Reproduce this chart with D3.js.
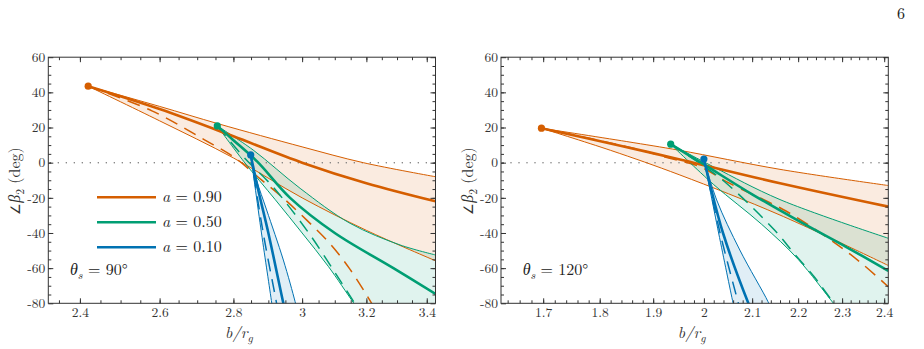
<!DOCTYPE html>
<html>
<head>
<meta charset="utf-8">
<script src="https://cdn.jsdelivr.net/npm/d3@7"></script>
<style>
  body { margin: 0; background: #fff; }
</style>
</head>
<body>
<div class="chart-container"></div>
<script>
const WIDTH = 924;
const HEIGHT = 349;
const FONT = "'Latin Modern Roman', 'Liberation Serif', serif";

const ORANGE = "#D55E00";
const GREEN = "#009E73";
const BLUE = "#0072B2";

// y ticks shared by both panels
const yTicks = [-80, -60, -40, -20, 0, 20, 40, 60];
const yDomain = [-80, 60];

// theta_s = 90 deg panel
const xTicks90 = [2.4, 2.6, 2.8, 3, 3.2, 3.4];
const xDomain90 = [2.325, 3.43];

const t90_a90 = {
  dot: [2.42, 43.5],
  upper: [[2.42, 43.5], [2.6, 32], [2.76, 22], [3.0, 9], [3.19, 0], [3.43, -8]],
  mid: [[2.42, 43.5], [2.6, 30.5], [2.8, 15], [3.0, 0], [3.2, -11.7], [3.43, -22]],
  lower: [[2.42, 43.5], [2.6, 23.8], [2.8, 2.7], [3.0, -20], [3.2, -38.5], [3.43, -55.8]],
  dashed: [[2.42, 43.5], [2.58, 29.5], [2.72, 13], [2.8, 3.4], [2.88, -9.8], [2.944, -20.2], [3.014, -32.7], [3.085, -46], [3.148, -60.7], [3.217, -80], [3.24, -87]]
};
const t90_a50 = {
  dot: [2.755, 20.9],
  upper: [[2.755, 20.9], [2.856, 7.2], [2.994, -14.6], [3.148, -34.5], [3.31, -46.8], [3.43, -52.5]],
  mid: [[2.755, 20.9], [2.8, 12.8], [2.868, 0.6], [2.964, -20], [3.1, -40], [3.288, -60], [3.43, -74.7]],
  lower: [[2.755, 20.9], [2.83, 0.5], [2.92, -21], [3.0, -40], [3.08, -59], [3.16, -80], [3.2, -90]],
  dashed: [[2.755, 20.9], [2.83, 3], [2.91, -13], [3.02, -40], [3.12, -68], [3.17, -82]]
};
const t90_a10 = {
  dot: [2.849, 4.4],
  upper: [[2.849, 4.4], [2.866, -9.9], [2.895, -26.9], [2.944, -55.4], [2.979, -79.1], [2.985, -84]],
  mid: [[2.849, 4.4], [2.87, -15], [2.9, -40], [2.944, -80], [2.95, -85]],
  lower: [[2.849, 4.4], [2.88, -40], [2.91, -80], [2.915, -87]],
  dashed: [[2.849, 4.4], [2.885, -40], [2.924, -80], [2.93, -87]]
};

// theta_s = 120 deg panel
const xTicks120 = [1.7, 1.8, 1.9, 2, 2.1, 2.2, 2.3, 2.4];
const xDomain120 = [1.629, 2.41];

const t120_a90 = {
  dot: [1.697, 19.6],
  upper: [[1.697, 19.6], [1.85, 12], [1.952, 7], [2.16, -3.8], [2.41, -13]],
  mid: [[1.697, 19.6], [1.84, 9.5], [1.95, 2], [2.16, -11.7], [2.41, -25]],
  lower: [[1.697, 19.6], [1.82, 7], [1.952, -7], [2.16, -29.8], [2.41, -58.5]],
  dashed: [[1.697, 19.6], [1.862, 8.2], [1.932, 2.5], [1.992, -2.3], [2.05, -11.4], [2.173, -27.5], [2.287, -46.3], [2.346, -57.3], [2.41, -70.6]]
};
const t120_a50 = {
  dot: [1.934, 10.5],
  upper: [[1.934, 10.5], [2.019, -2.3], [2.16, -21], [2.41, -43]],
  mid: [[1.934, 10.5], [2.0, -1], [2.1, -18], [2.2, -33], [2.31, -48], [2.41, -61.5]],
  lower: [[1.934, 10.5], [2.02, -12.5], [2.12, -35], [2.2, -55], [2.28, -80], [2.3, -86]],
  dashed: [[1.934, 10.5], [2.0, -2], [2.046, -11.7], [2.148, -38.3], [2.191, -51.6], [2.236, -64.9], [2.264, -74.3], [2.29, -83]]
};
const t120_a10 = {
  dot: [2.0, 2.1],
  upper: [[2.0, 2.1], [2.026, -21.2], [2.074, -49.7], [2.134, -79.1], [2.14, -83]],
  mid: [[2.0, 2.1], [2.012, -12], [2.039, -40], [2.092, -80], [2.1, -85]],
  lower: [[2.0, 2.1], [2.03, -40], [2.06, -80], [2.065, -86]],
  dashed: [[2.0, 2.1], [2.033, -40], [2.071, -80], [2.077, -86]]
};

const legendLabels = ["0.90", "0.50", "0.10"];
const legendColors = [ORANGE, GREEN, BLUE];

const PLOT_TOP = 57.2;
const PLOT_BOTTOM = 303.3;

const svg = d3.select(".chart-container")
  .append("svg")
  .attr("width", WIDTH)
  .attr("height", HEIGHT);

const defs = svg.append("defs");

const drawPanel = (cfg) => {
  const x = d3.scaleLog().domain(cfg.xDomain).range([cfg.left, cfg.right]);
  const y = d3.scaleLinear().domain(yDomain).range([PLOT_BOTTOM, PLOT_TOP]);

  defs.append("clipPath").attr("id", cfg.id)
    .append("rect")
    .attr("x", cfg.left).attr("y", PLOT_TOP)
    .attr("width", cfg.right - cfg.left).attr("height", PLOT_BOTTOM - PLOT_TOP);

  const line = d3.line()
    .x((d) => x(d[0]))
    .y((d) => y(d[1]))
    .curve(d3.curveCatmullRom.alpha(0.5));

  const plot = svg.append("g").attr("clip-path", `url(#${cfg.id})`);

  // bands
  cfg.series.forEach((s) => {
    const up = line(s.data.upper);
    const lowRev = line(s.data.lower.slice().reverse());
    const endUp = s.data.upper[s.data.upper.length - 1];
    const endLow = s.data.lower[s.data.lower.length - 1];
    const close = `L${x(endUp[0])},${y(-200)}L${x(endLow[0])},${y(-200)}`;
    plot.append("path")
      .attr("d", up + close + "L" + lowRev.slice(1) + "Z")
      .attr("fill", s.color)
      .attr("fill-opacity", 0.12)
      .attr("stroke", "none");
  });

  // zero line
  plot.append("line")
    .attr("x1", cfg.left + 2).attr("x2", cfg.right)
    .attr("y1", y(0)).attr("y2", y(0))
    .attr("stroke", "#777")
    .attr("stroke-width", 1.5)
    .attr("stroke-linecap", "round")
    .attr("stroke-dasharray", "0,8");

  cfg.series.forEach((s) => {
    ["upper", "lower"].forEach((k) => {
      plot.append("path")
        .attr("d", line(s.data[k]))
        .attr("fill", "none")
        .attr("stroke", s.color)
        .attr("stroke-width", 1);
    });
    plot.append("path")
      .attr("d", line(s.data.dashed))
      .attr("fill", "none")
      .attr("stroke", s.color)
      .attr("stroke-width", 1.5)
      .attr("stroke-dasharray", "13,8");
  });

  cfg.series.forEach((s) => {
    plot.append("path")
      .attr("d", line(s.data.mid))
      .attr("fill", "none")
      .attr("stroke", s.color)
      .attr("stroke-width", 2.6);
    svg.append("circle")
      .attr("cx", x(s.data.dot[0]))
      .attr("cy", y(s.data.dot[1]))
      .attr("r", 3.6)
      .attr("fill", s.color);
  });

  // frame + ticks on all sides, pointing inward
  const fmt = (d) => String(+d.toFixed(2));
  const styleAxis = (g) => {
    g.select(".domain").remove();
    g.selectAll("line").attr("stroke", "#333");
    g.selectAll("text")
      .attr("fill", "#333")
      .style("font-size", "13.5px");
  };
  const axes = [
    [d3.axisBottom(x), PLOT_BOTTOM, 0, cfg.xTicks, cfg.xMinor, fmt, 4],
    [d3.axisTop(x), PLOT_TOP, 0, cfg.xTicks, cfg.xMinor, () => "", 4],
    [d3.axisLeft(y), 0, cfg.left, yTicks, d3.range(-75, 60, 5), (d) => String(d), 3],
    [d3.axisRight(y), 0, cfg.right, yTicks, d3.range(-75, 60, 5), () => "", 3]
  ];
  axes.forEach(([ax, ty, tx, major, minor, f, pad]) => {
    svg.append("g")
      .attr("transform", `translate(${tx},${ty})`)
      .call(ax.tickValues(minor).tickSize(-3).tickSizeOuter(0).tickFormat(""))
      .call(styleAxis);
    svg.append("g")
      .attr("transform", `translate(${tx},${ty})`)
      .call(ax.tickValues(major).tickSize(-5).tickSizeOuter(0).tickPadding(pad).tickFormat(f))
      .call(styleAxis);
  });

  svg.append("rect")
    .attr("x", cfg.left).attr("y", PLOT_TOP)
    .attr("width", cfg.right - cfg.left).attr("height", PLOT_BOTTOM - PLOT_TOP)
    .attr("fill", "none")
    .attr("stroke", "#333")
    .attr("stroke-width", 1);

  // axis titles
  const xt = svg.append("text")
    .attr("x", (cfg.left + cfg.right) / 2 - 3)
    .attr("y", 338)
    .attr("text-anchor", "middle")
    .style("font-size", "16px")
    .attr("fill", "#333");
  xt.append("tspan").attr("font-style", "italic").text("b/r");
  xt.append("tspan").attr("font-style", "italic").style("font-size", "11.5px").attr("dy", 3.5).text("g");

  const yt = svg.append("text")
    .attr("transform", `translate(${cfg.left - 28},${181}) rotate(-90)`)
    .attr("text-anchor", "middle")
    .style("font-size", "16px")
    .attr("fill", "#333");
  yt.append("tspan").attr("class", "angle").text("∠");
  yt.append("tspan").attr("font-style", "italic").text("β");
  yt.append("tspan").style("font-size", "11.5px").attr("dy", 3.5).text("2");
  yt.append("tspan").attr("dy", -3.5).text(" (deg)");

  const th = svg.append("text")
    .attr("x", cfg.thetaX)
    .attr("y", 275)
    .style("font-size", "16px")
    .attr("fill", "#222");
  th.append("tspan").attr("font-style", "italic").text("θ");
  th.append("tspan").attr("font-style", "italic").style("font-size", "11.5px").attr("dy", 3.5).text("s");
  th.append("tspan").attr("dy", -3.5).text(` = ${cfg.theta}°`);
};

drawPanel({
  id: "clip90",
  left: 48.3, right: 435.5,
  xDomain: xDomain90, xTicks: xTicks90,
  xMinor: d3.range(2.35, 3.43, 0.05),
  theta: 90, thetaX: 70,
  series: [
    { data: t90_a90, color: ORANGE },
    { data: t90_a50, color: GREEN },
    { data: t90_a10, color: BLUE }
  ]
});

drawPanel({
  id: "clip120",
  left: 501, right: 888.3,
  xDomain: xDomain120, xTicks: xTicks120,
  xMinor: d3.range(1.64, 2.41, 0.02),
  theta: 120, thetaX: 522.7,
  series: [
    { data: t120_a90, color: ORANGE },
    { data: t120_a50, color: GREEN },
    { data: t120_a10, color: BLUE }
  ]
});

// legend
const legend = svg.append("g");
legendLabels.forEach((lab, i) => {
  const ly = 197.3 + i * 25;
  legend.append("line")
    .attr("x1", 97).attr("x2", 156)
    .attr("y1", ly).attr("y2", ly)
    .attr("stroke", legendColors[i])
    .attr("stroke-width", 2.6);
  const t = legend.append("text")
    .attr("x", 162).attr("y", ly + 5)
    .style("font-size", "16px")
    .attr("fill", "#222");
  t.append("tspan").attr("font-style", "italic").text("a");
  t.append("tspan").text(` = ${lab}`);
});

// page number
svg.append("text")
  .attr("x", 901).attr("y", 19)
  .attr("text-anchor", "middle")
  .style("font-size", "16px")
  .attr("fill", "#222")
  .text("6");

svg.selectAll("text").style("font-family", FONT);
svg.selectAll("tspan.angle")
  .style("font-family", "'Liberation Sans', sans-serif")
  .style("font-size", "13px");
</script>
</body>
</html>
